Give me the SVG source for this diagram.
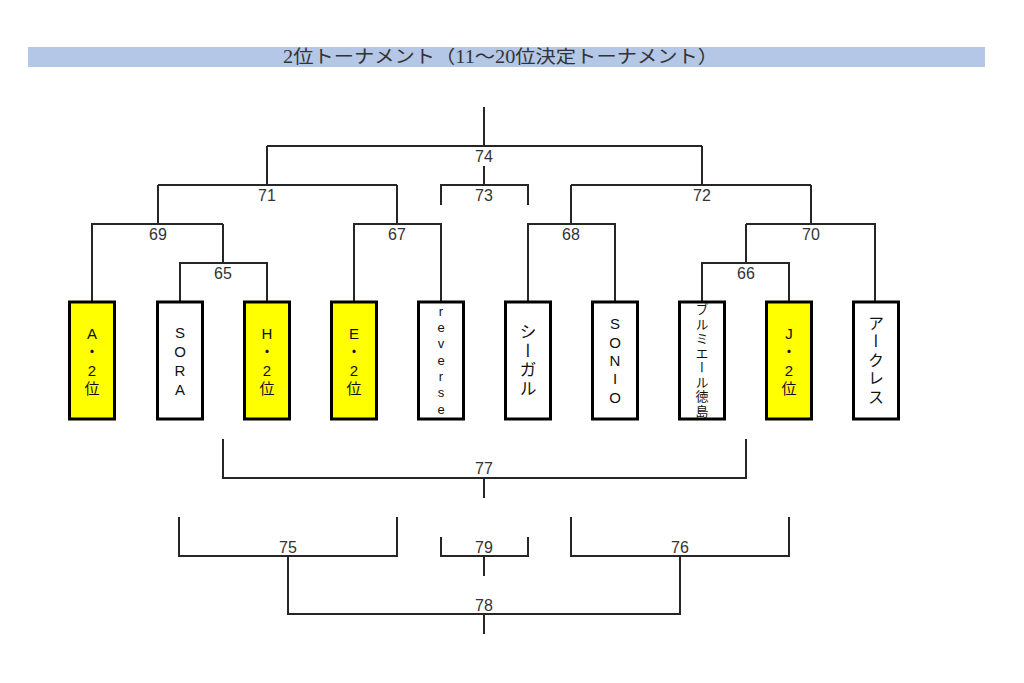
<svg xmlns="http://www.w3.org/2000/svg" width="1024" height="683" viewBox="0 0 1024 683">
<style>
.ln{fill:none;stroke:#262626;stroke-width:2}
.box{stroke:#000;stroke-width:3}
.y{fill:#ffff00}
.w{fill:#ffffff}
.lbl{font-family:"Liberation Sans","Noto Sans CJK JP",sans-serif;font-size:16px;fill:#333;text-anchor:middle}
.t{font-family:"Liberation Sans","Noto Sans CJK JP",sans-serif;fill:#111;text-anchor:middle}
.v{font-family:"Noto Sans CJK JP",sans-serif;fill:#111;text-anchor:middle;writing-mode:vertical-rl}
</style>
<rect width="1024" height="683" fill="#fff"/>
<g id="title">
<rect x="28" y="47" width="957" height="20" fill="#b4c7e7"/>
<text x="500.5" y="63" font-family="Liberation Serif,'Noto Sans CJK JP',serif" font-size="18" fill="#333" text-anchor="middle" textLength="435" lengthAdjust="spacingAndGlyphs">2位トーナメント（11～20位決定トーナメント）</text>
</g>
<g id="connectors" class="ln">
<path d="M484 107V146M267 146H702M267 146V185M702 146V185M484 166V185M441 205V185H528V205"/>
<path d="M158 185H397M158 185V224M397 185V224M571 185H811M571 185V224M811 185V224"/>
<path d="M92 302V224H223M223 224V263M180 302V263H267V302M354 302V224H441V302M528 302V224H615V302M746 224H875V302M746 224V263M702 302V263H789V302"/>
<path d="M223 439V478H746V439M484 478V498M179 517V556H397V517M441 537V556H528V537M484 556V576M571 517V556H789V517M288 556V614H680V556M484 614V634"/>
</g>
<g id="labels" class="lbl">
<text x="484" y="162">74</text>
<text x="484" y="201">73</text>
<text x="267" y="201">71</text>
<text x="702" y="201">72</text>
<text x="158" y="240">69</text>
<text x="397" y="240">67</text>
<text x="571" y="240">68</text>
<text x="811" y="240">70</text>
<text x="223" y="279">65</text>
<text x="746" y="279">66</text>
<text x="484" y="474">77</text>
<text x="288" y="553">75</text>
<text x="484" y="553">79</text>
<text x="680" y="553">76</text>
<text x="484" y="611">78</text>
</g>
<g id="team-A">
<rect class="box y" x="69.5" y="302" width="45" height="117"/>
<text class="t" font-size="15"><tspan x="92" y="339">A</tspan><tspan x="92" y="357">・</tspan><tspan x="92" y="376">2</tspan><tspan x="92" y="394">位</tspan></text>
</g>
<g id="team-SORA">
<rect class="box w" x="157.5" y="302" width="45" height="117"/>
<text class="t" font-size="15"><tspan x="180" y="338">S</tspan><tspan x="180" y="357">O</tspan><tspan x="180" y="376">R</tspan><tspan x="180" y="395">A</tspan></text>
</g>
<g id="team-H">
<rect class="box y" x="244.5" y="302" width="45" height="117"/>
<text class="t" font-size="15"><tspan x="267" y="339">H</tspan><tspan x="267" y="357">・</tspan><tspan x="267" y="376">2</tspan><tspan x="267" y="394">位</tspan></text>
</g>
<g id="team-E">
<rect class="box y" x="331.5" y="302" width="45" height="117"/>
<text class="t" font-size="15"><tspan x="354" y="339">E</tspan><tspan x="354" y="357">・</tspan><tspan x="354" y="376">2</tspan><tspan x="354" y="394">位</tspan></text>
</g>
<g id="team-reverse">
<rect class="box w" x="418.5" y="302" width="45" height="117"/>
<text class="t" font-size="13"><tspan x="441" y="316">r</tspan><tspan x="441" y="332">e</tspan><tspan x="441" y="348">v</tspan><tspan x="441" y="364.5">e</tspan><tspan x="441" y="381">r</tspan><tspan x="441" y="397">s</tspan><tspan x="441" y="414">e</tspan></text>
</g>
<g id="team-seagull">
<rect class="box w" x="505.5" y="302" width="45" height="117"/>
<text class="v" x="528" y="361" font-size="17" letter-spacing="2">シーガル</text>
</g>
<g id="team-SONIO">
<rect class="box w" x="592.5" y="302" width="45" height="117"/>
<text class="t" font-size="15"><tspan x="615" y="329">S</tspan><tspan x="615" y="347.5">O</tspan><tspan x="615" y="366">N</tspan><tspan x="615" y="384">I</tspan><tspan x="615" y="403">O</tspan></text>
</g>
<g id="team-brumiere">
<rect class="box w" x="679.5" y="302" width="45" height="117"/>
<text class="v" x="702" y="361" font-size="13" letter-spacing="1.5">ブルミエール徳島</text>
</g>
<g id="team-J">
<rect class="box y" x="766.5" y="302" width="45" height="117"/>
<text class="t" font-size="15"><tspan x="789" y="339">J</tspan><tspan x="789" y="357">・</tspan><tspan x="789" y="376">2</tspan><tspan x="789" y="394">位</tspan></text>
</g>
<g id="team-arcles">
<rect class="box w" x="853.5" y="302" width="45" height="117"/>
<text class="v" x="876" y="361" font-size="16" letter-spacing="2.5">アークレス</text>
</g>
</svg>
